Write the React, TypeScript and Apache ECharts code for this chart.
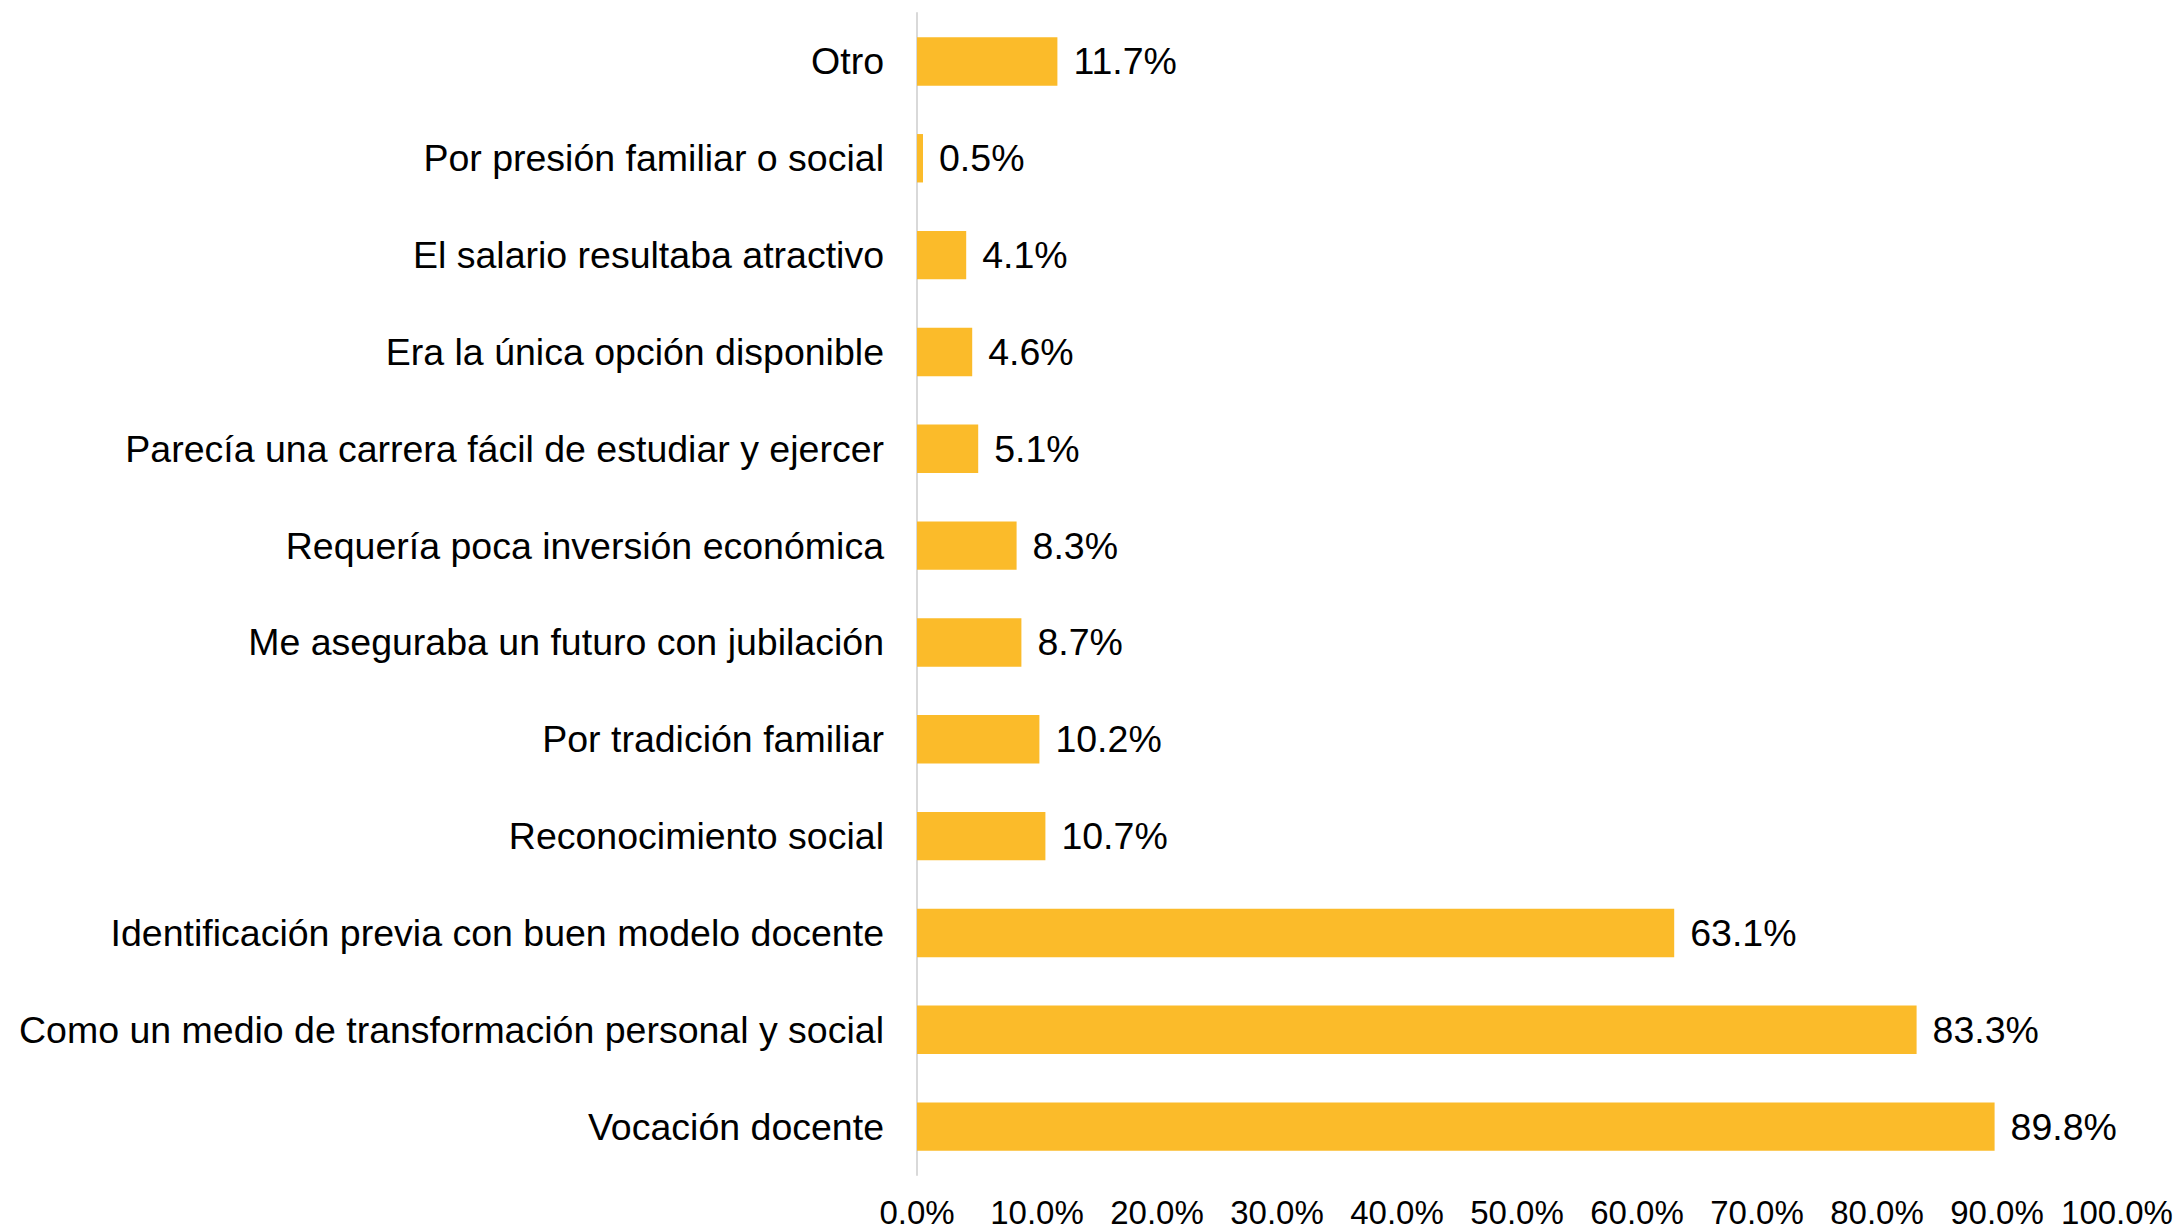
import React, { useEffect, useRef } from "react";
import * as echarts from "echarts";

const categories = [
  "Otro",
  "Por presión familiar o social",
  "El salario resultaba atractivo",
  "Era la única opción disponible",
  "Parecía una carrera fácil de estudiar y ejercer",
  "Requería poca inversión económica",
  "Me aseguraba un futuro con jubilación",
  "Por tradición familiar",
  "Reconocimiento social",
  "Identificación previa con buen modelo docente",
  "Como un medio de transformación personal y social",
  "Vocación docente",
];

const values = [11.7, 0.5, 4.1, 4.6, 5.1, 8.3, 8.7, 10.2, 10.7, 63.1, 83.3, 89.8];

const xMin = 0;
const xMax = 100;
const xInterval = 10;

const FONT = "'Liberation Sans', Arial, sans-serif";

export default function App() {
  const ref = useRef<HTMLDivElement>(null);

  useEffect(() => {
    document.body.style.margin = "0";
    if (!ref.current) return;
    const chart = echarts.init(ref.current, undefined, { renderer: "svg" });
    chart.setOption({
      animation: false,
      backgroundColor: "#ffffff",
      grid: { left: 917, right: 60, top: 13, bottom: 55, containLabel: false },
      xAxis: {
        type: "value",
        min: xMin,
        max: xMax,
        interval: xInterval,
        axisLine: { show: false },
        axisTick: { show: false },
        splitLine: { show: false },
        axisLabel: {
          color: "#000000",
          fontFamily: FONT,
          fontSize: 33,
          margin: 21,
          formatter: (v: number) => v.toFixed(1) + "%",
        },
      },
      yAxis: {
        type: "category",
        inverse: true,
        data: categories,
        axisLine: { show: true, lineStyle: { color: "#D9D9D9", width: 2 } },
        axisTick: { show: false },
        axisLabel: {
          color: "#000000",
          fontFamily: FONT,
          fontSize: 37.5,
          margin: 33,
        },
      },
      series: [
        {
          type: "bar",
          data: values,
          barCategoryGap: "50%",
          itemStyle: { color: "#FBBB2A" },
          label: {
            show: true,
            position: "right",
            distance: 16,
            color: "#000000",
            fontFamily: FONT,
            fontSize: 37.5,
            formatter: (p: any) => Number(p.value).toFixed(1) + "%",
          },
        },
      ],
    });
    return () => chart.dispose();
  }, []);

  return <div ref={ref} style={{ width: 2177, height: 1230 }} />;
}
